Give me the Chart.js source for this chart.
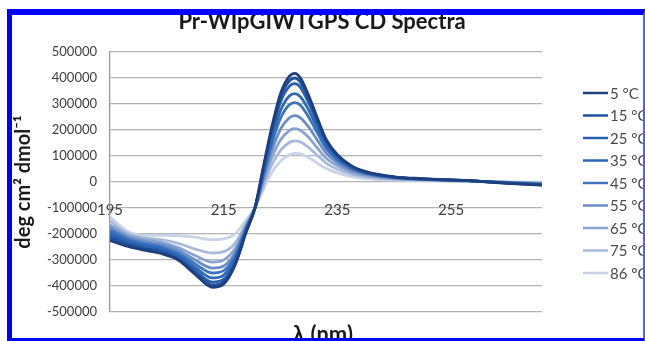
<!DOCTYPE html>
<html>
<head>
<meta charset="utf-8">
<script src="https://cdn.jsdelivr.net/npm/chart.js@4.4.1/dist/chart.umd.min.js"></script>
<style>
    html, body { margin: 0; padding: 0; background: #fff; }
    #wrap { position: relative; width: 645px; height: 341px; overflow: hidden; }
    #frame {
        position: absolute; left: 7px; top: 9px; right: 0; bottom: 0;
        border-left: 5px solid #0000ff; border-top: 6px solid #0000ff;
        border-right: 2px solid #5a5aff; border-bottom: 3px solid #0000ff;
        pointer-events: none;
    }
</style>
</head>
<body>
<div id="wrap">
    <canvas id="myChart" width="645" height="341"></canvas>
    <div id="frame"></div>
</div>
<script>
// wavelength (nm) of the sampled points
const wavelengths = [195, 198, 201, 204, 207, 210, 213, 215, 217, 219, 220.5, 222, 223.5, 225, 226.5, 227.5, 228.5, 230, 231.5, 233, 235, 237.5, 240, 245, 250, 258, 265, 271];

const seriesLabels = ['5 °C', '15 °C', '25 °C', '35 °C', '45 °C', '55 °C', '65 °C', '75 °C', '86 °C'];
const seriesColors = ['#1d3f7e', '#22509a', '#285fb0', '#2f68b7', '#3c74bd', '#6b8ec7', '#8aa3d0', '#a8badb', '#c8d3e6'];

const t5  = [-225000, -247000, -262000, -275000, -300000, -355000, -405000, -392000, -320000, -190000, -100000, 60000, 215000, 340000, 405000, 418000, 400000, 330000, 245000, 165000, 105000, 62000, 40000, 20000, 13000, 5000, -5000, -12000];
const t15 = [-215000, -240000, -256000, -270000, -296000, -349000, -396000, -384000, -314000, -188000, -100000, 55000, 205000, 325000, 388000, 400000, 384000, 318000, 236000, 160000, 102000, 60000, 38000, 19000, 12000, 5000, -4000, -11000];
const t25 = [-205000, -233000, -250000, -264000, -290000, -340000, -385000, -374000, -307000, -185000, -100000, 48000, 192000, 308000, 367000, 378000, 364000, 302000, 226000, 153000, 98000, 58000, 37000, 19000, 12000, 5000, -4000, -10000];
const t35 = [-195000, -226000, -244000, -257000, -283000, -328000, -369000, -358000, -296000, -180000, -100000, 38000, 170000, 275000, 330000, 340000, 328000, 275000, 207000, 142000, 92000, 55000, 35000, 18000, 11000, 5000, -3000, -9000];
const t45 = [-185000, -218000, -237000, -249000, -274000, -315000, -350000, -341000, -285000, -175000, -100000, 28000, 150000, 245000, 296000, 305000, 295000, 248000, 188000, 130000, 85000, 51000, 33000, 17000, 11000, 5000, -3000, -8000];
const t55 = [-175000, -210000, -229000, -240000, -263000, -300000, -331000, -323000, -272000, -170000, -100000, 15000, 122000, 203000, 246000, 255000, 247000, 210000, 160000, 112000, 74000, 45000, 29000, 15000, 10000, 4000, -2000, -6000];
const t65 = [-165000, -203000, -222000, -232000, -252000, -283000, -308000, -300000, -256000, -164000, -100000, 2000, 95000, 162000, 197000, 205000, 199000, 170000, 130000, 92000, 62000, 38000, 25000, 13000, 9000, 4000, -2000, -5000];
const t75 = [-150000, -197000, -215000, -222000, -236000, -258000, -273000, -268000, -235000, -157000, -100000, -12000, 68000, 122000, 151000, 158000, 154000, 132000, 102000, 73000, 49000, 30000, 20000, 11000, 7000, 3000, -1000, -3000];
const t86 = [-135000, -188000, -205000, -205000, -206000, -212000, -222000, -219000, -200000, -145000, -100000, -28000, 38000, 80000, 104000, 110000, 108000, 93000, 72000, 52000, 35000, 21000, 13000, 7000, 5000, 2000, 0, -1000];

const allSeries = [t5, t15, t25, t35, t45, t55, t65, t75, t86];

const xTickValues = [195, 215, 235, 255];
const chartTitle = 'Pr-WIpGIWTGPS CD Spectra';
const xTitle = 'λ (nm)';
const yTitle = 'deg cm² dmol⁻¹';

// title, x title and the legend are painted here so they sit where the original had them
const extraText = {
    id: 'extraText',
    afterDraw(chart) {
        const ctx = chart.ctx;
        ctx.save();
        ctx.fillStyle = '#1a1a1a';
        ctx.textAlign = 'center';
        ctx.textBaseline = 'middle';
        ctx.font = 'bold 22px Lato';
        ctx.fillText(chartTitle, 322, 22);
        ctx.font = 'bold 22px Lato';
        ctx.fillText(xTitle, 323, 335);

        ctx.textAlign = 'left';
        ctx.font = '15px Lato';
        chart.data.datasets.forEach((ds, i) => {
            const y = 93 + i * 22.5;
            ctx.strokeStyle = ds.borderColor;
            ctx.lineWidth = 2.5;
            ctx.beginPath();
            ctx.moveTo(583, y);
            ctx.lineTo(608, y);
            ctx.stroke();
            ctx.fillStyle = '#4a4a4a';
            ctx.fillText(ds.label, 610, y + 1);
        });
        ctx.restore();
    }
};

const ctx = document.getElementById('myChart').getContext('2d');
const chartInstance = new Chart(ctx, {
    type: 'line',
    data: {
        datasets: allSeries.map((vals, i) => ({
            label: seriesLabels[i],
            data: wavelengths.map((w, j) => ({ x: w, y: vals[j] })),
            borderColor: seriesColors[i],
            borderWidth: 2.8,
            pointRadius: 0,
            cubicInterpolationMode: 'monotone',
            fill: false
        }))
    },
    options: {
        responsive: false,
        animation: false,
        layout: { padding: { top: 52, right: 103, bottom: 29, left: 0 } },
        plugins: {
            legend: { display: false },
            tooltip: { enabled: false }
        },
        scales: {
            x: {
                type: 'linear',
                min: 195,
                max: 271,
                position: { y: 0 },
                afterBuildTicks: s => { s.ticks = xTickValues.map(v => ({ value: v })); },
                grid: { display: false, drawTicks: false },
                border: { display: false },
                ticks: { color: '#404040', font: { family: 'Lato', size: 15 }, padding: 19, maxRotation: 0 }
            },
            y: {
                min: -500000,
                max: 500000,
                afterFit: s => { s.width = 110; },
                ticks: {
                    stepSize: 100000,
                    color: '#404040',
                    font: { family: 'Lato', size: 13 },
                    padding: 13,
                    callback: v => String(v)
                },
                grid: { color: '#b3b3b3', lineWidth: 1.3, drawTicks: false },
                border: { display: true, color: '#9a9a9a', width: 1.3 },
                title: {
                    display: true,
                    text: yTitle,
                    color: '#1a1a1a',
                    font: { family: 'Lato', size: 20, weight: 'bold' },
                    padding: { top: 12, bottom: 0 }
                }
            }
        }
    },
    plugins: [extraText]
});
</script>
</body>
</html>
